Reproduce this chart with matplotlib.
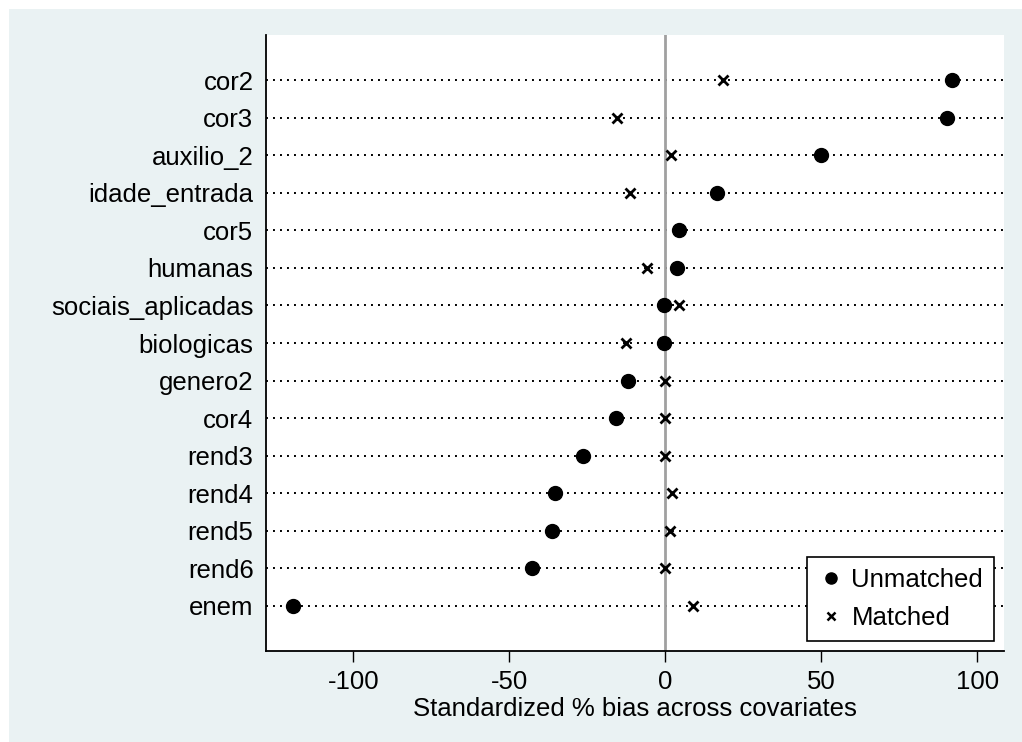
import matplotlib
matplotlib.use("Agg")
import matplotlib.pyplot as plt
from matplotlib.patches import Rectangle
from matplotlib.lines import Line2D

plt.rcParams['font.family'] = ['Liberation Sans', 'DejaVu Sans']

covariates = ["cor2", "cor3", "auxilio_2", "idade_entrada", "cor5", "humanas",
              "sociais_aplicadas", "biologicas", "genero2", "cor4", "rend3",
              "rend4", "rend5", "rend6", "enem"]
unmatched = [91.7, 90.3, 49.8, 16.4, 4.3, 3.8, -0.3, -0.5, -12.0, -15.8,
             -26.3, -35.3, -36.3, -42.8, -119.5]
matched = [18.5, -15.4, 1.7, -11.2, 4.3, -6.0, 4.4, -12.7, -0.2, 0.0,
           0.0, 2.2, 1.4, 0.0, 8.9]
xticks = [-100, -50, 0, 50, 100]
xlabel = "Standardized % bias across covariates"

W, H = 1022, 742
FS = 18.5
fig = plt.figure(figsize=(W / 100, H / 100), dpi=100, facecolor='white')
bg = Rectangle((9 / W, 0), 1 - 9 / W, 1 - 9 / H, transform=fig.transFigure,
               facecolor='#EAF2F3', edgecolor='none', zorder=-10)
fig.patches.append(bg)

ax = fig.add_axes([266 / W, 1 - 651 / H, (1004 - 266) / W, (651 - 35) / H])
ax.set_zorder(1)
ax.set_facecolor('white')

n = len(covariates)
ypos = list(range(1, n + 1))
ax.set_xlim(-128, 108.5)
ax.set_ylim(n + 1.2, -0.2)

for y in ypos:
    ax.plot([-128, 108.5], [y, y], color='black', lw=1.4,
            dashes=(1, 2.6), zorder=1, solid_capstyle='butt',
            dash_capstyle='butt')

ax.axvline(0, color='#A0A0A0', lw=2, zorder=2)

ax.plot(unmatched, ypos, 'o', color='black', ms=10, zorder=3, ls='none')
ax.plot(matched, ypos, 'x', color='black', ms=7, mew=2, zorder=3, ls='none')

ax.set_yticks(ypos)
ax.set_yticklabels(covariates, fontsize=FS)
ax.tick_params(axis='y', length=0, pad=9)
ax.set_xticks(xticks)
ax.set_xticklabels([str(t) for t in xticks], fontsize=FS)
ax.tick_params(axis='x', length=8, width=1, direction='out', pad=6)
ax.set_xlabel(xlabel, fontsize=FS, labelpad=2)

for s in ['top', 'right']:
    ax.spines[s].set_visible(False)
for s in ['left', 'bottom']:
    ax.spines[s].set_linewidth(1.3)
    ax.spines[s].set_color('black')

handles = [Line2D([], [], marker='o', color='black', ls='none', ms=8),
           Line2D([], [], marker='x', color='black', ls='none', ms=6, mew=1.8)]
leg = ax.legend(handles, ["Unmatched", "Matched"], loc='lower right',
                bbox_to_anchor=((994 - 266) / (1004 - 266), (651 - 641) / (651 - 35)),
                fontsize=FS, frameon=True, fancybox=False, edgecolor='black',
                framealpha=1, borderaxespad=0, handletextpad=0.3,
                handlelength=1.0, labelspacing=0.55, borderpad=0.42)
leg.get_frame().set_linewidth(1.2)

fig.savefig("out.png", dpi=100, facecolor=fig.get_facecolor())
